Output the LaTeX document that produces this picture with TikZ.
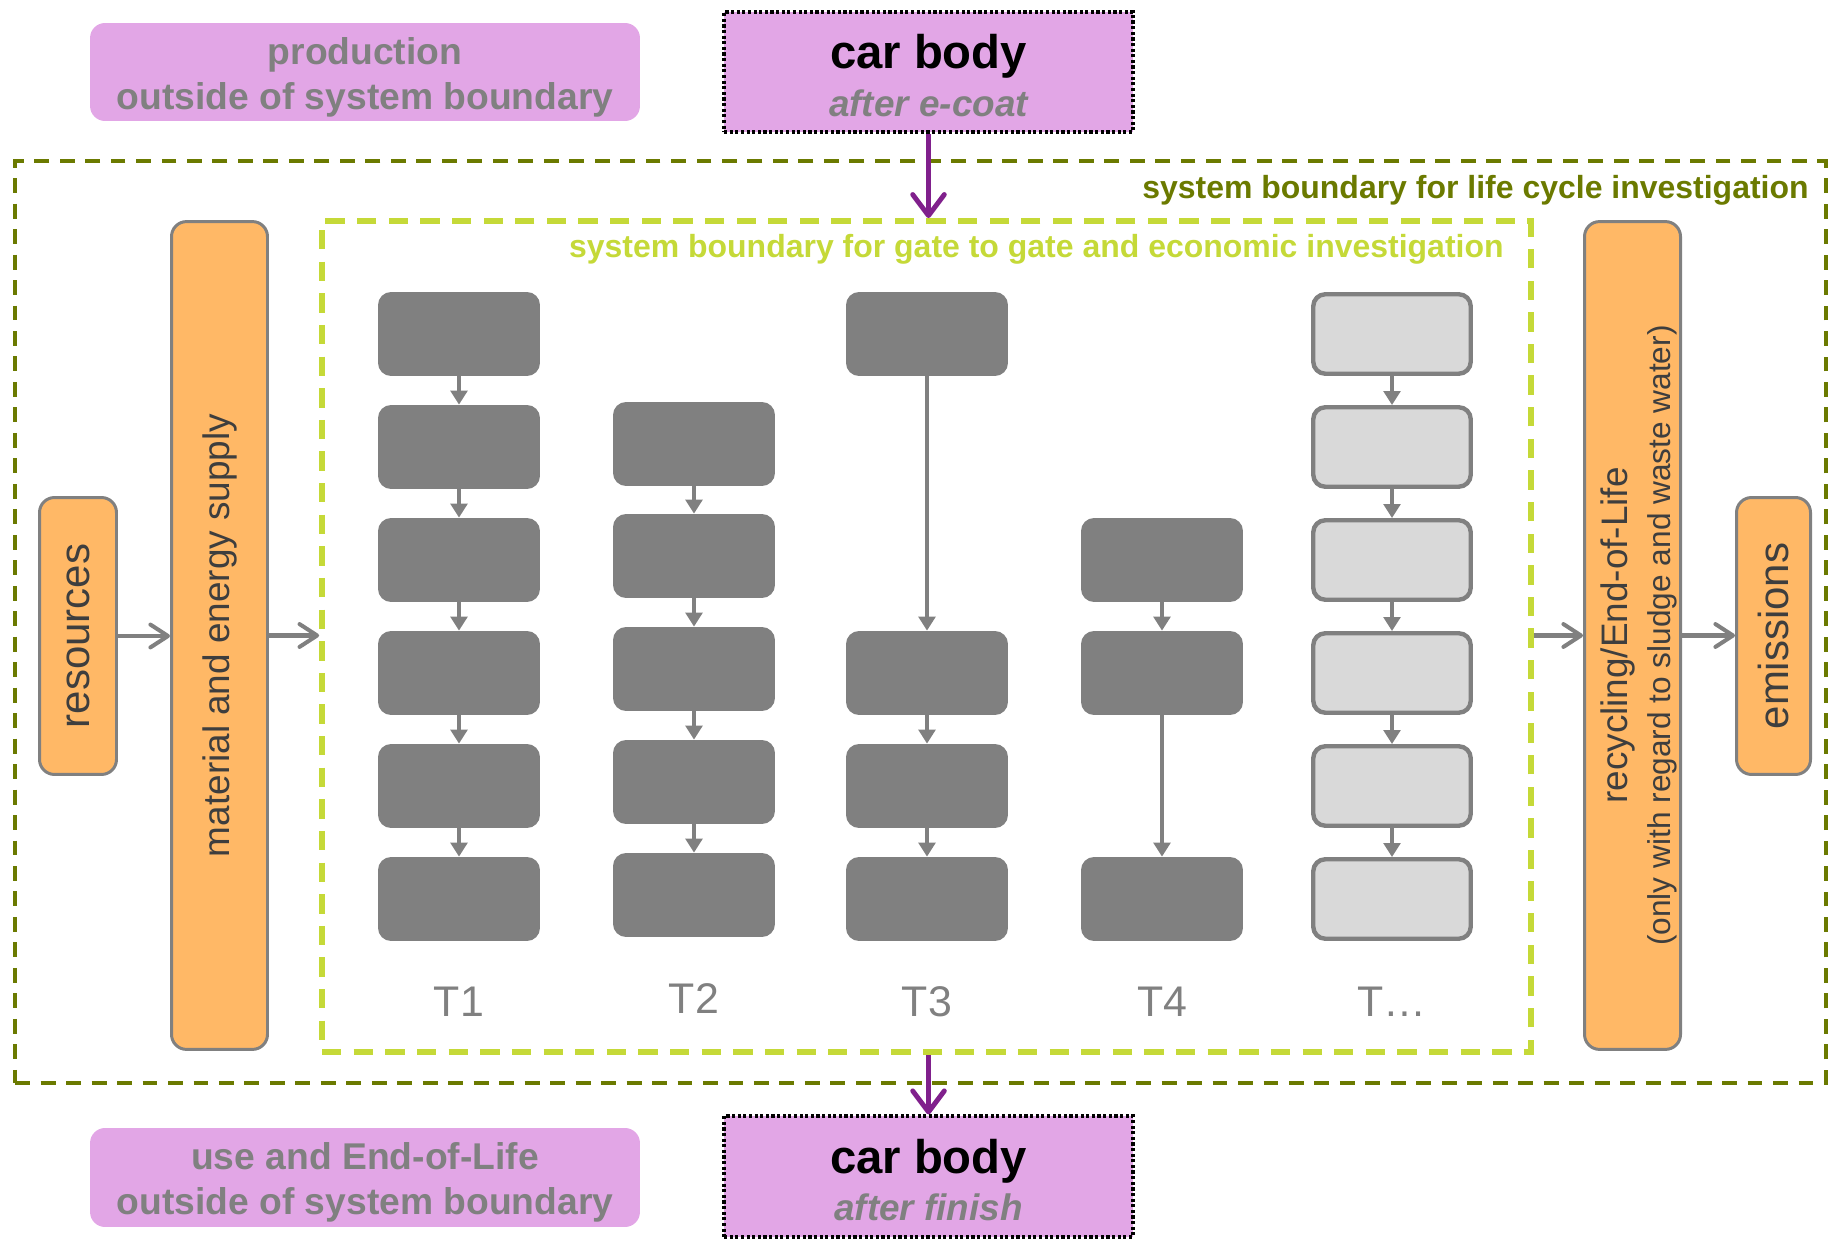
\documentclass[tikz,border=0pt]{standalone}
\usepackage{fontspec}
\setmainfont{Liberation Sans}
\usetikzlibrary{arrows.meta}
\definecolor{pinkbox}{RGB}{226,166,230}
\definecolor{tgray}{RGB}{128,128,128}
\definecolor{orangeB}{RGB}{255,184,102}
\definecolor{oliveB}{RGB}{107,122,0}
\definecolor{limeB}{RGB}{197,217,56}
\definecolor{purpleB}{RGB}{128,32,140}
\definecolor{lightbox}{RGB}{217,217,217}
\definecolor{otext}{RGB}{62,62,62}
\begin{document}
\begin{tikzpicture}[x=0.02cm,y=-0.02cm,
  procbox/.style={rectangle, rounded corners=0.26cm, fill=tgray, minimum width=3.24cm, minimum height=1.68cm, inner sep=0pt},
  lightproc/.style={rectangle, rounded corners=0.24cm, fill=lightbox, draw=tgray, line width=2.5pt, minimum width=3.15cm, minimum height=1.59cm, inner sep=0pt},
  flow/.style={draw=tgray, line width=2.6pt, -{Triangle[length=8pt,width=9.5pt]}},
  orangebox/.style={rectangle, rounded corners=0.3cm, fill=orangeB, draw=tgray, line width=1.7pt, inner sep=0pt},
  pinkround/.style={rectangle, rounded corners=0.3cm, fill=pinkbox, minimum width=11cm, inner sep=0pt},
  pinktext/.style={inner sep=0pt, align=center, text=tgray, font=\fontsize{21.2}{25.6}\selectfont\bfseries, yshift=-0.1cm},
  carbox/.style={rectangle, fill=pinkbox, draw=black, line width=1.8pt, dash pattern=on 1.8pt off 1.4pt, minimum width=8.18cm, inner sep=0pt},
  cartext/.style={inner sep=0pt, align=center, font=\fontsize{21}{27}\selectfont\bfseries, yshift=-0.07cm},
  garrow/.style={draw=tgray, line width=2.3pt, -{Straight Barb[length=10pt,width=13pt,round]}},
  parrow/.style={draw=purpleB, line width=2.8pt, -{Straight Barb[length=12pt,width=18pt,round]}},
  blabel/.style={inner sep=0pt, anchor=east, font=\fontsize{18.2}{22}\selectfont\bfseries},
  tlabel/.style={inner sep=0pt, text=tgray, font=\fontsize{24.4}{28}\selectfont},
  vtext/.style={rotate=90, text=otext, align=center}
]
\useasboundingbox (0,0) rectangle (1829,1239);

% boundaries
\node[draw=oliveB, line width=2pt, dash pattern=on 8.5pt off 6pt, minimum width=36.22cm, minimum height=18.44cm, inner sep=0pt] (outer) at (920.5,622) {};
\node[draw=limeB, line width=3.4pt, dash pattern=on 11pt off 7pt, minimum width=24.18cm, minimum height=16.62cm, inner sep=0pt] (inner) at (926.5,636.5) {};
\node[blabel, text=oliveB] (lclabel) at (1809,190) {system boundary for life cycle investigation};
\node[blabel, text=limeB] (gglabel) at (1504,249) {system boundary for gate to gate and economic investigation};

% pink boxes
\node[pinkround, minimum height=1.96cm,
  label={[pinktext]center:production\\outside of system boundary}] (prod) at (365,72) {};
\node[pinkround, minimum height=1.98cm,
  label={[pinktext]center:use and End-of-Life\\outside of system boundary}] (use) at (365,1177.5) {};
\node[carbox, minimum height=2.4cm,
  label={[cartext]center:{\fontsize{26.9}{30}\selectfont car body}\\{\color{tgray}\itshape after e-coat}}] (cartop) at (928.5,72) {};
\node[carbox, minimum height=2.42cm,
  label={[cartext]center:{\fontsize{26.9}{30}\selectfont car body}\\{\color{tgray}\itshape after finish}}] (carbot) at (928.5,1176.5) {};

% orange boxes
\node[orangebox, minimum width=1.54cm, minimum height=5.54cm,
  label={[vtext, font=\fontsize{23.9}{28}\selectfont]center:resources}] (res) at (78,636) {};
\node[orangebox, minimum width=1.92cm, minimum height=16.56cm,
  label={[vtext, font=\fontsize{21}{25}\selectfont]center:material and energy supply}] (mat) at (219.5,635.5) {};
\node[orangebox, minimum width=1.92cm, minimum height=16.56cm,
  label={[vtext, font=\fontsize{21}{24.5}\selectfont, yshift=-0.12cm]center:recycling/End-of-Life\\{\fontsize{18}{24.5}\selectfont (only with regard to sludge and waste water)}}] (rec) at (1632.5,635.5) {};
\node[orangebox, minimum width=1.48cm, minimum height=5.54cm,
  label={[vtext, font=\fontsize{23.9}{28}\selectfont]center:emissions}] (emi) at (1773.5,636) {};

% flows between outer blocks
\draw[garrow] (res.east) -- (res.east -| mat.west);
\draw[garrow] (mat.east) -- (mat.east -| inner.west);
\draw[garrow] (inner.east |- rec.west) -- (rec.west);
\draw[garrow] (rec.east) -- (rec.east -| emi.west);
\draw[parrow] (cartop.south) -- (cartop.south |- inner.north);
\draw[parrow] (inner.south -| carbot.north) -- (carbot.north);

% T1
\foreach \i/\y in {1/334,2/447,3/560,4/673,5/786,6/899}
  \node[procbox] (a\i) at (459,\y) {};
\foreach \i/\j in {1/2,2/3,3/4,4/5,5/6}
  \draw[flow] (a\i.south) -- (a\j.north);
% T2
\foreach \i/\y in {1/444,2/556,3/669,4/782,5/895}
  \node[procbox] (b\i) at (694,\y) {};
\foreach \i/\j in {1/2,2/3,3/4,4/5}
  \draw[flow] (b\i.south) -- (b\j.north);
% T3
\foreach \i/\y in {1/334,4/673,5/786,6/899}
  \node[procbox] (c\i) at (927,\y) {};
\foreach \i/\j in {1/4,4/5,5/6}
  \draw[flow] (c\i.south) -- (c\j.north);
% T4
\foreach \i/\y in {3/560,4/673,6/899}
  \node[procbox] (d\i) at (1162,\y) {};
\foreach \i/\j in {3/4,4/6}
  \draw[flow] (d\i.south) -- (d\j.north);
% T...
\foreach \i/\y in {1/334,2/447,3/560,4/673,5/786,6/899}
  \node[lightproc] (e\i) at (1392,\y) {};
\foreach \i/\j in {1/2,2/3,3/4,4/5,5/6}
  \draw[flow] (e\i.south) -- (e\j.north);

% column labels
\node[tlabel] (t1) at (459,1002) {T1};
\node[tlabel] (t2) at (694,999) {T2};
\node[tlabel] (t3) at (927,1002) {T3};
\node[tlabel] (t4) at (1162,1002) {T4};
\node[tlabel] (t5) at (1392,1002) {T…};
\end{tikzpicture}
\end{document}
